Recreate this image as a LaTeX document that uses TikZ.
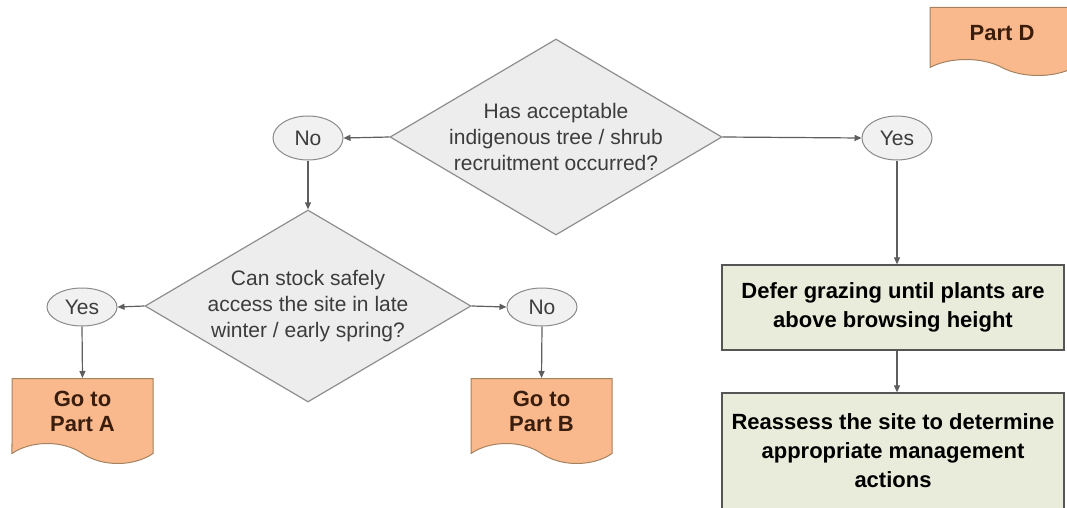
\documentclass[tikz,border=0pt]{standalone}
\usepackage{fontspec}
\setmainfont{Liberation Sans}
\usetikzlibrary{shapes.geometric,shapes.symbols,arrows.meta}

\definecolor{diafill}{HTML}{EDEDED}
\definecolor{diaedge}{HTML}{8E8E8E}
\definecolor{ovalfill}{HTML}{F1F1F1}
\definecolor{ovaledge}{HTML}{8A8A8A}
\definecolor{docfill}{HTML}{F9B98D}
\definecolor{docedge}{HTML}{A5825F}
\definecolor{doctext}{HTML}{3A1D0C}
\definecolor{boxfill}{HTML}{E9ECDB}
\definecolor{boxedge}{HTML}{555555}
\definecolor{flowgray}{HTML}{5E5E5E}
\definecolor{textgray}{HTML}{3C3C3C}

\begin{document}
\begin{tikzpicture}[x=1pt,y=-1pt,
    decision/.style={diamond, draw=diaedge, fill=diafill, line width=1.2pt, inner sep=0pt,
        aspect=1.69, align=center, text=textgray, font=\fontsize{21}{26}\selectfont},
    answer/.style={ellipse, draw=ovaledge, fill=ovalfill, line width=1pt, inner sep=0pt,
        minimum width=70pt, text=textgray, font=\fontsize{21}{26}\selectfont},
    gotopart/.style={tape, tape bend top=none, tape bend bottom=out and in, tape bend height=20pt,
        draw=docedge, fill=docfill, line width=1pt, minimum width=141pt, align=center, anchor=north,
        text=doctext, font=\bfseries\fontsize{22}{25}\selectfont},
    action/.style={rectangle, draw=boxedge, fill=boxfill, line width=1.3pt, minimum width=342pt,
        align=center, font=\bfseries\fontsize{22}{29}\selectfont},
    flow/.style={draw=flowgray, line width=1.2pt, -{Triangle[length=7pt,width=6pt]}}]
    \useasboundingbox (0,0) rectangle (1067,508);
    \clip (0,0) rectangle (1067,508);

    % first question and its two answers
    \node[decision, minimum width=332pt, minimum height=196pt] (recruit) at (556,137)
        {Has acceptable\\indigenous tree / shrub\\recruitment occurred?};
    \node[answer, minimum height=44pt] (noTop) at (308,138) {No};
    \node[answer, minimum height=44pt] (yesTop) at (897,138) {Yes};

    % second question on the left branch
    \node[decision, minimum width=326pt, minimum height=192pt] (access) at (308,306)
        {Can stock safely\\access the site in late\\winter / early spring?};
    \node[answer, minimum height=38pt] (yesLow) at (82,307) {Yes};
    \node[answer, minimum height=38pt] (noLow) at (542,307) {No};

    % off-page links
    \node[gotopart, minimum height=85pt] (partA) at (82.5,378) {Go to\\Part A};
    \node[gotopart, minimum height=85pt] (partB) at (541.5,378) {Go to\\Part B};
    \node[gotopart, minimum height=68pt, minimum width=144pt, tape bend height=16pt] (partD) at (1002,7) {Part D};

    % actions on the right branch
    \node[action, minimum height=85pt] (defer) at (893,307.5)
        {Defer grazing until plants are\\above browsing height};
    \node[action, minimum height=116pt] (reassess) at (893,451)
        {Reassess the site to determine\\appropriate management\\actions};

    % connectors
    \draw[flow] (recruit.west) -- (noTop.east);
    \draw[flow] (recruit.east) -- (yesTop.west);
    \draw[flow] (noTop.south) -- (access.north);
    \draw[flow] (access.west) -- (yesLow.east);
    \draw[flow] (access.east) -- (noLow.west);
    \draw[flow] (yesLow.south) -- (partA.north);
    \draw[flow] (noLow.south) -- (partB.north);
    \draw[flow] (yesTop.south) -- (yesTop.south |- defer.north);
    \draw[flow] (defer.south -| yesTop) -- (reassess.north -| yesTop);
\end{tikzpicture}
\end{document}
